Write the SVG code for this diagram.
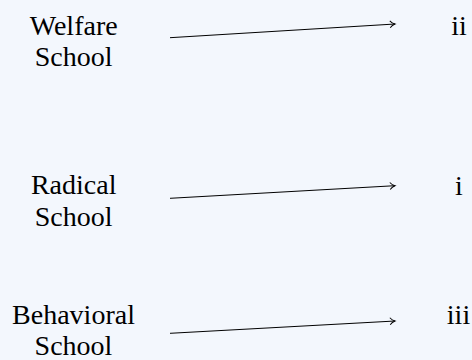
<svg xmlns="http://www.w3.org/2000/svg" width="472" height="360" viewBox="0 0 472 360">
<style>
text{font-family:"Liberation Serif","Times New Roman",serif;font-size:28px;fill:#000;text-anchor:middle}
.c{stroke:#000;stroke-width:1;fill:none}
</style>
<defs>
<marker id="ah" markerWidth="10" markerHeight="10" refX="8" refY="5" orient="auto" markerUnits="userSpaceOnUse">
<path d="M3,1.5 Q5,4 8,5 Q5,6 3,8.5" fill="none" stroke="#000" stroke-width="1"/>
</marker>
</defs>
<rect width="472" height="360" fill="#f3f7fd"/>
<g id="welfare"><text x="73.7" y="35">Welfare</text><text x="73.7" y="66">School</text></g>
<g id="radical"><text x="73.7" y="194">Radical</text><text x="73.7" y="225.5">School</text></g>
<g id="behavioral"><text x="73.5" y="323.5">Behavioral</text><text x="73.5" y="355">School</text></g>
<g id="ii"><text x="459" y="34.5">ii</text></g>
<g id="i"><text x="459" y="195">i</text></g>
<g id="iii"><text x="458.5" y="323.5">iii</text></g>
<g id="connectors">
<line class="c" x1="170" y1="37.7" x2="395" y2="24" marker-end="url(#ah)"/>
<line class="c" x1="170" y1="198.3" x2="395" y2="185.7" marker-end="url(#ah)"/>
<line class="c" x1="170" y1="333.3" x2="395" y2="321" marker-end="url(#ah)"/>
</g>
</svg>
